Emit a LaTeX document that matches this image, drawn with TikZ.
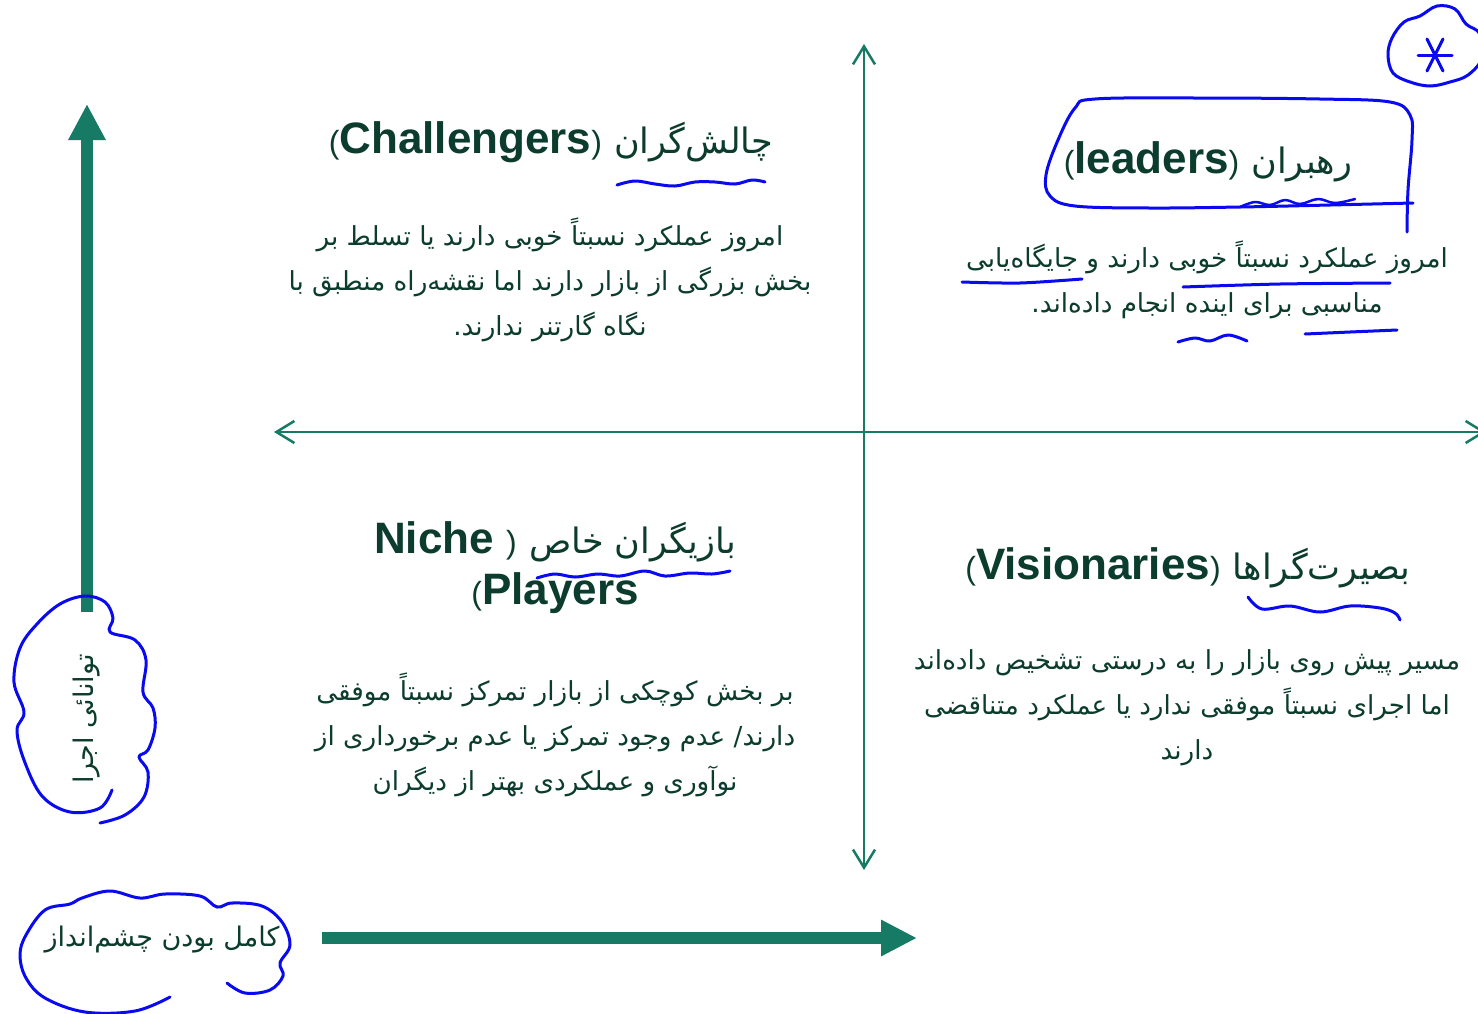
\documentclass[tikz,border=0pt]{standalone}
\usepackage{fontspec}
\setmainfont{Liberation Sans}
\newfontfamily\arabicfont[Script=Arabic]{DejaVu Sans}
\TeXXeTstate=1
\usetikzlibrary{arrows.meta}
\definecolor{txt}{RGB}{12,60,45}
\definecolor{axiscol}{RGB}{22,122,100}
\definecolor{ink}{RGB}{10,10,240}
\newcommand{\fa}[1]{{\arabicfont\beginR #1\endR}}
\newcommand{\fat}[1]{{\arabicfont\fontsize{35}{40}\selectfont\beginR #1\endR}}
\newcommand{\pr}[1]{{\mdseries\fontsize{32}{40}\selectfont #1}}
\tikzset{
  thinaxis/.style={draw=axiscol, line width=2.5pt,
    {Straight Barb[length=18pt,width=22pt,line width=2.5pt]}-{Straight Barb[length=18pt,width=22pt,line width=2.5pt]}},
  thickaxis/.style={draw=axiscol, line width=12pt},
  titletext/.style={text=txt, align=center, font=\fontsize{44}{51}\selectfont, inner sep=0pt},
  bodytext/.style={text=txt, align=center, font=\fontsize{26.2}{45}\selectfont, inner sep=0pt},
  labeltext/.style={text=txt, font=\fontsize{27}{30}\selectfont, inner sep=0pt},
  ink/.style={draw=ink, line width=3pt, line cap=round, line join=round}
}
\begin{document}
\begin{tikzpicture}[x=1pt,y=-1pt]
\useasboundingbox (0,0) rectangle (1478,1013);
\clip (0,0) rectangle (1478,1013);
\fill[white] (0,0) rectangle (1478,1013);

% axes
\coordinate (vtop) at (864,44);
\coordinate (vbot) at (864,870);
\coordinate (hleft) at (274,432);
\coordinate (hright) at (1486,432);
\draw[thinaxis] (vbot) -- (vtop);
\draw[thinaxis] (hleft) -- (hright);

% thick axes
\coordinate (ystart) at (87,612);
\coordinate (yend) at (87,104);
\coordinate (xstart) at (322,938);
\coordinate (xend) at (917,938);
\draw[thickaxis, -{Triangle[length=36pt,width=35pt]}] (ystart) -- (yend);
\draw[thickaxis, -{Triangle[length=36pt,width=34pt]}] (xstart) -- (xend);

% titles
\node[titletext] (chT) at (551,142) {\pr{(}\textbf{Challengers}\pr{)} \fat{چالش‌گران}};
\node[titletext] (leT) at (1208,162) {\pr{(}\textbf{leaders}\pr{)} \fat{رهبران}};
\node[titletext] (niT) at (555,568) {\textbf{Niche} \pr{)} \fat{بازیگران خاص}\\\pr{(}\textbf{Players}};
\node[titletext] (viT) at (1188,568) {\pr{(}\textbf{Visionaries}\pr{)} \fat{بصیرت‌گراها}};

% bodies
\node[bodytext] (chB) at (550,280) {\fa{امروز عملکرد نسبتاً خوبی دارند یا تسلط بر}\\\fa{بخش بزرگی از بازار دارند اما نقشه‌راه منطبق با}\\\fa{نگاه گارتنر ندارند.}};
\node[bodytext] (leB) at (1207,280) {\fa{امروز عملکرد نسبتاً خوبی دارند و جایگاه‌یابی}\\\fa{مناسبی برای اینده انجام داده‌اند.}};
\node[bodytext] (niB) at (555,735) {\fa{بر بخش کوچکی از بازار تمرکز نسبتاً موفقی}\\\fa{دارند/ عدم وجود تمرکز یا عدم برخورداری از}\\\fa{نوآوری و عملکردی بهتر از دیگران}};
\node[bodytext] (viB) at (1187,708) {\fa{مسیر پیش روی بازار را به درستی تشخیص داده‌اند}\\\fa{اما اجرای نسبتاً موفقی ندارد یا عملکرد متناقضی}\\\fa{دارند}};

% axis labels
\node[labeltext, rotate=90] (yL) at (87,719) {\fa{توانائی اجرا}};
\node[labeltext] (xL) at (162,940) {\fa{کامل بودن چشم‌انداز}};

% blue annotations
% star cloud
\draw[ink] plot[smooth cycle, tension=0.6] coordinates {(1393,73) (1388,55) (1392,38) (1404,22) (1420,16) (1437,6) (1455,9) (1466,24) (1480,34) (1482,58) (1468,75) (1450,82) (1430,86) (1410,82)};
\coordinate (star) at (1435,55);
\draw[ink] ([xshift=-17pt]star) -- ([xshift=17pt]star);
\draw[ink] ([shift={(-8,-16)}]star) -- ([shift={(8,16)}]star);
\draw[ink] ([shift={(8,-16)}]star) -- ([shift={(-8,16)}]star);

% leaders box
\draw[ink] plot[smooth, tension=0.6] coordinates {(1413,203) (1330,205) (1240,207) (1150,208) (1075,206) (1050,196) (1046,175) (1058,140) (1075,108) (1095,99) (1200,98) (1320,99) (1390,102) (1410,115) (1412,140) (1408,190) (1407,232)};
% leaders squiggle
\draw[ink, line width=2.5pt] plot[smooth, tension=0.6] coordinates {(1240,207) (1255,202) (1270,205) (1285,200) (1300,204) (1318,199) (1335,203) (1355,199)};
% leaders underlines
\draw[ink] plot[smooth] coordinates {(962,282) (1020,283) (1082,279)};
\draw[ink] plot[smooth] coordinates {(1183,287) (1280,284) (1390,283)};
\draw[ink] plot[smooth] coordinates {(1305,334) (1350,332) (1397,330)};
\draw[ink] plot[smooth, tension=0.6] coordinates {(1178,342) (1195,338) (1210,341) (1228,335) (1247,341)};

% challengers squiggle
\draw[ink] plot[smooth, tension=0.6] coordinates {(617,185) (635,181) (655,184) (675,186) (695,182) (715,182) (735,184) (752,180) (765,182)};
% niche squiggle
\draw[ink] plot[smooth, tension=0.6] coordinates {(537,578) (555,574) (575,577) (598,574) (620,576) (645,571) (665,576) (690,573) (712,574) (730,571)};
% visionaries squiggle
\draw[ink] plot[smooth, tension=0.6] coordinates {(1248,597) (1262,609) (1290,606) (1320,612) (1350,606) (1380,608) (1395,613) (1400,620)};

% vertical label cloud
\draw[ink] plot[smooth, tension=0.6] coordinates {(112,790) (100,808) (70,812) (42,796) (24,760) (17,730) (24,712) (14,682) (20,648) (37,624) (60,604) (85,596) (105,602) (113,618) (110,632) (135,640) (146,660) (143,692) (153,708) (155,728) (148,750) (139,757) (148,772) (144,797) (125,815) (100,823)};
% horizontal label cloud
\draw[ink] plot[smooth, tension=0.6] coordinates {(227,983) (245,993) (270,990) (283,976) (280,963) (290,945) (282,922) (262,906) (232,903) (217,907) (200,896) (165,894) (140,898) (110,891) (82,898) (70,904) (45,910) (26,935) (20,955) (26,978) (45,998) (85,1012) (135,1011) (170,997)};
\end{tikzpicture}
\end{document}
